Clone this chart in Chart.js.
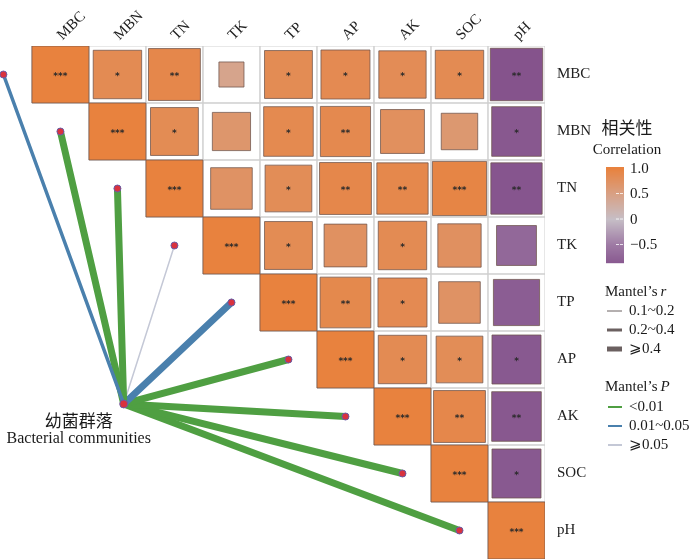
<!DOCTYPE html>
<html>
<head>
<meta charset="utf-8">
<script src="https://cdn.jsdelivr.net/npm/chart.js@4.4.1/dist/chart.umd.min.js"></script>
<style>
  body { margin: 0; background: #fff; }
  #wrap { width: 700px; height: 560px; }
</style>
</head>
<body>
<div id="wrap"><canvas id="corrChart"></canvas></div>
<script>
const vars = ["MBC", "MBN", "TN", "TK", "TP", "AP", "AK", "SOC", "pH"];

// upper triangle, row i starts at column i
const corr = [
  [1, 0.85, 0.91, 0.44, 0.84, 0.86, 0.83, 0.85, -0.92],
  [1, 0.84, 0.67, 0.87, 0.88, 0.77, 0.64, -0.87],
  [1, 0.73, 0.82, 0.91, 0.90, 0.95, -0.90],
  [1, 0.84, 0.75, 0.85, 0.76, -0.70],
  [1, 0.89, 0.86, 0.73, -0.81],
  [1, 0.85, 0.82, -0.86],
  [1, 0.91, -0.87],
  [1, -0.86],
  [1]
];
const stars = [
  ["***", "*", "**", "", "*", "*", "*", "*", "**"],
  ["***", "*", "", "*", "**", "", "", "*"],
  ["***", "", "*", "**", "**", "***", "**"],
  ["***", "*", "", "*", "", ""],
  ["***", "**", "*", "", ""],
  ["***", "*", "*", "*"],
  ["***", "**", "**"],
  ["***", "*"],
  ["***"]
];

// Mantel test: bacterial communities vs each variable
const mantelR = [0.30, 0.46, 0.48, 0.15, 0.42, 0.50, 0.44, 0.41, 0.55];
const mantelP = [0.02, 0.002, 0.001, 0.30, 0.03, 0.001, 0.001, 0.004, 0.001];
const hub = { x: 1.11, y: 5.78 };

const corrTicks = [1.0, 0.5, 0, -0.5];
const rBins = ["0.1~0.2", "0.2~0.4", "\u2A7E0.4"];
const pBins = ["<0.01", "0.01~0.05", "\u2A7E0.05"];

const SERIF = '"Liberation Serif", "DejaVu Serif", serif';
const CJK = '"Noto Sans CJK SC", sans-serif';

const colStops = [
  [-1, [128, 76, 136]],
  [-0.5, [158, 122, 164]],
  [0, [198, 190, 198]],
  [0.5, [216, 160, 132]],
  [1, [232, 130, 62]]
];
function corrColor(v) {
  v = Math.max(-1, Math.min(1, v));
  for (let k = 0; k < colStops.length - 1; k++) {
    const [a, ca] = colStops[k], [b, cb] = colStops[k + 1];
    if (v <= b) {
      const t = (v - a) / (b - a);
      const c = ca.map((x, n) => Math.round(x + (cb[n] - x) * t));
      return `rgb(${c[0]},${c[1]},${c[2]})`;
    }
  }
  return "rgb(232,130,62)";
}
const rWidths = [1.5, 3.5, 7];
function rWidth(r) { return r < 0.2 ? rWidths[0] : r < 0.4 ? rWidths[1] : rWidths[2]; }
const pColors = ["#4f9f42", "#4a80ad", "#c4c8d6"];
function pColor(p) { return p < 0.01 ? pColors[0] : p < 0.05 ? pColors[1] : pColors[2]; }

function cellPx(chart) {
  const s = chart.scales.x;
  return Math.abs(s.getPixelForValue(1) - s.getPixelForValue(0));
}

const gridPts = [], markPts = [];
corr.forEach((row, i) => row.forEach((v, k) => {
  gridPts.push({ x: i + k, y: i, v: 1 });
  markPts.push({ x: i + k, y: i, v: v, s: stars[i][k] });
}));

const datasets = [
  {
    type: "scatter", label: "grid", data: gridPts, order: 10,
    pointStyle: "rect",
    pointRadius: c => cellPx(c.chart) / Math.SQRT2,
    pointBackgroundColor: "rgba(0,0,0,0)",
    pointBorderColor: "#cfcfcf", pointBorderWidth: 1
  },
  {
    type: "scatter", label: "corr", data: markPts, order: 9,
    pointStyle: "rect",
    pointRadius: c => c.raw ? cellPx(c.chart) * Math.abs(c.raw.v) / Math.SQRT2 : 0,
    pointBackgroundColor: c => c.raw ? corrColor(c.raw.v) : "#ccc",
    pointBorderColor: "rgba(110,84,76,0.75)", pointBorderWidth: 1
  }
];
vars.forEach((name, i) => {
  datasets.push({
    type: "line", label: "mantel " + name, order: 5, clip: false,
    data: [{ x: hub.x, y: hub.y }, { x: i - 1, y: i }],
    borderColor: pColor(mantelP[i]), borderWidth: rWidth(mantelR[i]),
    borderCapStyle: "round",
    pointRadius: [0, 3.5],
    pointBackgroundColor: "#d9323e", pointBorderColor: "#6a5ca8", pointBorderWidth: 1
  });
});
datasets.push({
  type: "scatter", label: "hub", data: [hub], order: 1, clip: false,
  pointRadius: 4, pointBackgroundColor: "#d9323e", pointBorderColor: "#6a5ca8", pointBorderWidth: 1
});

const overlay = {
  id: "overlay",
  afterDatasetsDraw(chart) {
    const ctx = chart.ctx, xs = chart.scales.x, ys = chart.scales.y;
    ctx.save();
    // significance stars
    ctx.fillStyle = "#2a2a2a";
    ctx.font = "bold 9px 'DejaVu Sans'";
    ctx.textAlign = "center";
    ctx.textBaseline = "middle";
    markPts.forEach(p => {
      if (p.s) ctx.fillText(p.s, xs.getPixelForValue(p.x), ys.getPixelForValue(p.y) + 2);
    });

    // hub label
    const hx = xs.getPixelForValue(hub.x), hy = ys.getPixelForValue(hub.y);
    ctx.fillStyle = "#1a1a1a";
    ctx.font = "17px " + CJK;
    ctx.fillText("幼菌群落", hx - 45, hy + 17);
    ctx.font = "16px " + SERIF;
    ctx.fillText("Bacterial communities", hx - 45, hy + 35);

    // correlation colour bar
    ctx.font = "17px " + CJK;
    ctx.fillText("相关性", 627, 128);
    ctx.font = "15px " + SERIF;
    ctx.fillText("Correlation", 627, 150);
    const bx = 606, bw = 18, top = 167, pxPer = 51, vTop = 1.02, vBot = -0.85;
    const yOf = v => top + (vTop - v) * pxPer;
    for (let y = yOf(vTop); y < yOf(vBot); y++) {
      ctx.fillStyle = corrColor(vTop - (y - top) / pxPer);
      ctx.fillRect(bx, y, bw, 1.2);
    }
    ctx.textAlign = "left";
    ctx.fillStyle = "#1a1a1a";
    corrTicks.forEach(t => {
      const y = yOf(t);
      if (t !== 1) {
        ctx.strokeStyle = "rgba(255,255,255,0.8)";
        ctx.lineWidth = 1;
        ctx.setLineDash([3, 1]);
        ctx.beginPath(); ctx.moveTo(bx + 10, y); ctx.lineTo(bx + bw - 1, y); ctx.stroke();
        ctx.setLineDash([]);
      }
      const lab = t === 1 ? "1.0" : t === 0 ? "0" : String(t).replace("-", "\u2212");
      ctx.fillText(lab, 630, y + 1);
    });

    // Mantel's r legend
    function title(txt, ital, x, y) {
      ctx.font = "15px " + SERIF;
      ctx.fillText(txt, x, y);
      const w = ctx.measureText(txt).width;
      ctx.font = "italic 15px " + SERIF;
      ctx.fillText(ital, x + w + 3, y);
    }
    ctx.fillStyle = "#1a1a1a";
    title("Mantel\u2019s", "r", 605, 292);
    rBins.forEach((lab, k) => {
      const y = 311 + k * 19;
      ctx.strokeStyle = "#6b6060";
      ctx.lineWidth = [1, 3, 5][k];
      ctx.beginPath(); ctx.moveTo(607, y); ctx.lineTo(622, y); ctx.stroke();
      ctx.font = "15px " + SERIF;
      ctx.fillText(lab, 629, y);
    });

    // Mantel's P legend
    title("Mantel\u2019s", "P", 605, 387);
    pBins.forEach((lab, k) => {
      const y = 407 + k * 19;
      ctx.strokeStyle = pColors[k];
      ctx.lineWidth = 2;
      ctx.beginPath(); ctx.moveTo(608, y); ctx.lineTo(622, y); ctx.stroke();
      ctx.font = "15px " + SERIF;
      ctx.fillText(lab, 629, y);
    });
    ctx.restore();
  }
};

new Chart(document.getElementById("corrChart"), {
  type: "scatter",
  data: { datasets },
  options: {
    responsive: true,
    maintainAspectRatio: false,
    animation: false,
    events: [],
    layout: { autoPadding: false, padding: { left: 0, right: 0, top: 0, bottom: 1 } },
    plugins: { legend: { display: false }, tooltip: { enabled: false } },
    scales: {
      x: {
        type: "linear", position: "top", min: -1.06, max: 8.5,
        afterBuildTicks: s => { s.ticks = vars.map((_, i) => ({ value: i })); },
        afterFit: s => { s.height = 46; s.paddingLeft = 0; s.paddingRight = 0; },
        ticks: {
          autoSkip: false, minRotation: 45, maxRotation: 45, padding: -6, labelOffset: 12,
          color: "#222", font: { family: SERIF, size: 15 },
          callback: v => vars[v]
        },
        grid: { display: false }, border: { display: false }
      },
      y: {
        type: "linear", position: "right", reverse: true, min: -0.5, max: 8.5,
        afterBuildTicks: s => { s.ticks = vars.map((_, i) => ({ value: i })); },
        afterFit: s => { s.width = 155; s.paddingTop = 0; s.paddingBottom = 0; },
        ticks: {
          autoSkip: false, padding: 4,
          color: "#222", font: { family: SERIF, size: 15 },
          callback: v => vars[v]
        },
        grid: { display: false }, border: { display: false }
      }
    }
  },
  plugins: [overlay]
});
</script>
</body>
</html>
